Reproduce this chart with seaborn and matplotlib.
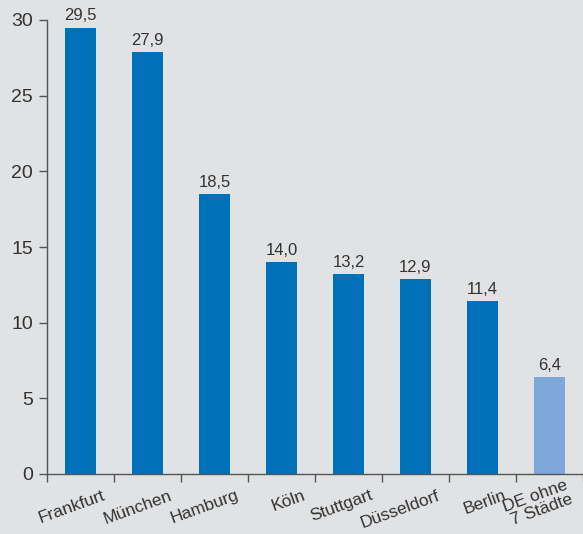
import matplotlib
matplotlib.use("Agg")
import matplotlib.pyplot as plt
import matplotlib.transforms as mtransforms
import numpy as np
import pandas as pd
import seaborn as sns

categories = ["Frankfurt", "München", "Hamburg", "Köln", "Stuttgart",
              "Düsseldorf", "Berlin", "DE ohne\n7 Städte"]
values = [29.5, 27.9, 18.5, 14.0, 13.2, 12.9, 11.4, 6.4]
colors = ["#0070b8"] * 7 + ["#7ea8da"]
yticks = [0, 5, 10, 15, 20, 25, 30]

sns.set_theme(style="white")
plt.rcParams['font.family'] = ['Liberation Sans', 'DejaVu Sans']
bg = "#e1e2e4"

fig = plt.figure(figsize=(5.83, 5.34), dpi=100, facecolor=bg)
ax = fig.add_axes([47/583, 60/534, 1 - 47/583, (474-20)/534])
ax.set_facecolor(bg)

df = pd.DataFrame({"cat": categories, "val": values})
sns.barplot(data=df, x="cat", y="val", hue="cat", palette=colors,
            legend=False, width=0.46, ax=ax, saturation=1, linewidth=0)

for c in ax.containers:
    ax.bar_label(c, labels=[f"{v:.1f}".replace(".", ",") for v in c.datavalues],
                 padding=3, fontsize=12, color="#333333")

ax.set_ylim(0, 30)
ax.set_xlim(-0.5, len(categories) - 0.5)
ax.set_yticks(yticks)
ax.set_yticklabels([str(t) for t in yticks], fontsize=14, color="#333333")
ax.tick_params(axis="y", length=6, width=1, color="#555555", direction="out",
               left=True, pad=4)

ax.set_xticks(np.arange(len(categories)))
ax.set_xticklabels(categories, fontsize=12.5, color="#333333", rotation=20,
                   ha="right", rotation_mode="anchor", linespacing=1.0)
ax.set_xticks(np.arange(len(categories) + 1) - 0.5, minor=True)
ax.tick_params(axis="x", which="major", length=0, pad=10)
ax.tick_params(axis="x", which="minor", length=6, width=1, color="#555555",
               direction="out", bottom=True)
labs = ax.get_xticklabels()
for i, lab in enumerate(labs):
    if i < len(labs) - 1:
        dx, dy = 21, 0
    else:
        dx, dy = 15, 10
    offset = mtransforms.ScaledTranslation(dx/100, dy/100, fig.dpi_scale_trans)
    lab.set_transform(lab.get_transform() + offset)

ax.set_xlabel("")
ax.set_ylabel("")
for s in ["top", "right"]:
    ax.spines[s].set_visible(False)
for s in ["left", "bottom"]:
    ax.spines[s].set_color("#555555")
    ax.spines[s].set_linewidth(1)

fig.savefig("out.png", dpi=100, facecolor=bg)
